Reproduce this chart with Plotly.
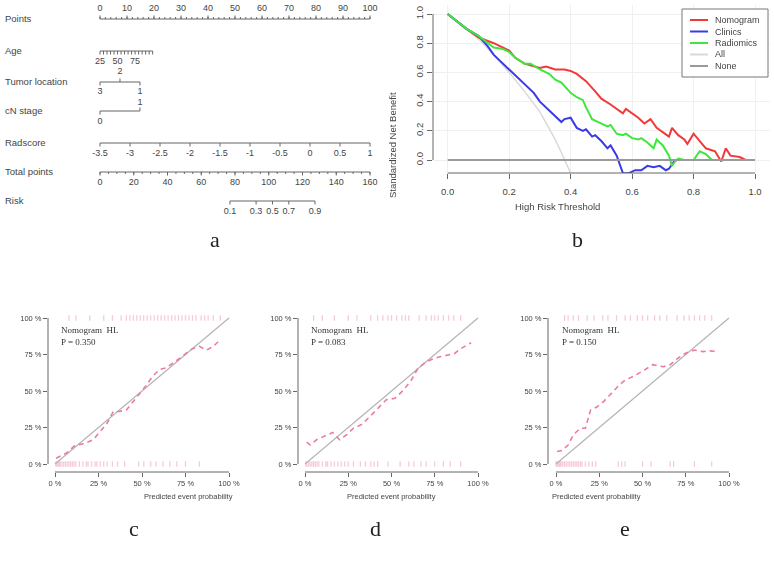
import plotly.graph_objects as go

W, H = 774, 562

# =============================================================================
# DATA - panel a (nomogram)
# =============================================================================

POINTS_TICKS = list(range(0, 101, 10))
POINTS_MINOR = list(range(0, 101, 2))

AGE_LABELS = [25, 50, 75]
AGE_TICKS = list(range(25, 101, 5))
AGE_PTS_PER_YEAR = 0.26

TUMOR_LEVELS = ["3", "2", "1"]
TUMOR_POINTS = [0, 7.4, 14.8]

CN_LEVELS = ["0", "1"]
CN_POINTS = [0, 14.8]

RADSCORE_TICKS = [-3.5, -3, -2.5, -2, -1.5, -1, -0.5, 0, 0.5, 1]

TOTAL_TICKS = list(range(0, 161, 20))
TOTAL_MINOR = list(range(0, 161, 5))

RISK_LABELS = ["0.1", "0.3", "0.5", "0.7", "0.9"]
RISK_TOTAL_POINTS = [77, 92.5, 102.2, 111.9, 127.4]

ROW_NAMES = ["Points", "Age", "Tumor location", "cN stage", "Radscore", "Total points", "Risk"]

# =============================================================================
# DATA - panel b (decision curves)
# =============================================================================

NOMO_X = [0, .03, .06, .1, .15, .2, .22, .25, .28, .3, .32, .35, .38, .4, .42, .45, .48, .5,
          .53, .55, .57, .58, .6, .62, .64, .66, .68, .7, .72, .73, .75, .77, .78, .8, .82,
          .84, .87, .89, .905, .92, .95, .97, 1.0]
NOMO_Y = [1, .95, .9, .84, .80, .75, .70, .66, .64, .63, .64, .62, .62, .61, .59, .54, .47, .42,
          .38, .35, .32, .35, .32, .29, .25, .28, .22, .19, .16, .22, .17, .14, .11, .18, .13,
          .08, .06, -.01, .08, .03, .02, 0, 0]

CLIN_X = [0, .03, .06, .1, .13, .15, .18, .2, .23, .25, .28, .3, .33, .35, .37, .38, .4, .42,
          .44, .45, .47, .48, .5, .52, .53, .55, .57, .59, .61, .63, .65, .67, .69, .71, .72,
          .74, .78, .82, .87]
CLIN_Y = [1, .95, .9, .85, .78, .72, .66, .62, .56, .52, .46, .40, .34, .30, .26, .28, .29, .22,
          .20, .21, .16, .17, .13, .08, .10, .03, -.09, -.09, -.07, -.07, -.04, -.05, -.04, -.07,
          -.06, 0, 0, 0, 0]

RAD_X = [0, .03, .06, .1, .13, .15, .18, .2, .22, .25, .27, .3, .33, .35, .37, .4, .42, .44,
         .45, .47, .49, .5, .52, .53, .55, .57, .58, .6, .62, .63, .65, .67, .68, .7, .72, .73,
         .74, .75, .77, .8, .82, .84, .86, .9, 1.0]
RAD_Y = [1, .95, .9, .85, .80, .77, .76, .74, .70, .66, .66, .62, .59, .55, .53, .46, .43, .41,
         .36, .28, .26, .25, .23, .24, .18, .17, .18, .15, .14, .15, .12, .08, .14, .10, .03, -.04,
         -.01, .01, 0, 0, .06, .04, 0, 0, 0]

ALL_X = [0, .05, .1, .15, .2, .25, .3, .33, .35, .37, .39, .4]
ALL_Y = [1, .92, .83, .72, .60, .47, .33, .22, .14, .05, -.05, -.09]

NONE_X = [0, 1]
NONE_Y = [0, 0]

DCA_TICKS = [0, 0.2, 0.4, 0.6, 0.8, 1.0]
DCA_TICKTEXT = ["0.0", "0.2", "0.4", "0.6", "0.8", "1.0"]

# =============================================================================
# DATA - panels c, d, e (calibration)
# =============================================================================

CAL_C_X = [0.6, 6.7, 11.5, 17, 22, 26, 30, 33.5, 37, 41, 45, 49, 52.6, 56, 60, 64, 68, 72, 75.5,
           79, 83, 87, 91, 94]
CAL_C_Y = [4, 7.5, 12.8, 14, 16.7, 22, 28, 36, 36, 37, 43, 49, 54, 60, 64.6, 66, 69, 72.6, 76,
           79, 80.6, 78, 80.6, 84]

CAL_D_X = [1, 3, 6.7, 11.5, 16, 20, 24, 28, 32.7, 37.5, 42, 47, 52, 57, 61.5, 65, 70, 74, 78,
           82, 86.5, 90, 96]
CAL_D_Y = [15, 13, 16.6, 19, 21.6, 16.6, 20, 24.5, 27, 32.5, 38, 44, 45, 50.7, 57.5, 65, 70, 72,
           73.4, 74.5, 75.7, 79, 83]

CAL_E_X = [0.6, 3.5, 7, 10, 14, 17, 20, 23.6, 27.5, 31, 36, 40, 44.7, 50.5, 56, 62, 66, 70,
           74.5, 80, 85, 89, 94]
CAL_E_Y = [8.6, 9.3, 13, 20, 24.5, 24.5, 37, 39, 42.7, 47, 53.4, 57.5, 60, 64, 68, 66.6, 68, 72,
           75.7, 78, 77, 77.5, 77]

RUG_C_TOP = [8, 12, 20, 28, 33, 38, 41, 43, 45, 47, 49, 51, 53, 55, 57, 59, 61, 63, 65, 67, 69,
             71, 73, 75, 77, 79, 81, 84, 86, 88, 91, 95]
RUG_C_BOT = [0.5, 1, 1.5, 2, 2.5, 3, 4, 5, 6, 7, 8, 9, 10, 11, 12, 14, 16, 18, 19, 21, 23, 24,
             26, 28, 30, 33, 36, 40, 48, 51, 55, 58, 62, 66, 70, 75, 83]
RUG_D_TOP = [5, 10, 17, 25, 30, 38, 42, 45, 48, 50, 53, 56, 58, 60, 66, 70, 73, 75, 77, 80, 83,
             86, 90]
RUG_D_BOT = [0.5, 1, 2, 3, 4, 5, 6, 7, 8, 10, 12, 13, 15, 17, 19, 21, 23, 25, 28, 32, 35, 38,
             40, 42, 48, 55, 60, 63, 67, 70, 75, 80, 84, 90]
RUG_E_TOP = [5, 7, 10, 13, 18, 22, 27, 30, 35, 40, 43, 47, 50, 53, 57, 60, 64, 70, 74, 77, 80,
             83, 86, 90]
RUG_E_BOT = [0, 0.5, 1, 1.5, 2, 2.5, 3, 4, 5, 6, 7, 8, 9, 10, 11, 12, 13, 14, 15, 17, 19, 21,
             23, 36, 38, 40, 50, 55, 66, 68, 80, 90]

HL_P = ["0.350", "0.083", "0.150"]
CAL_TICKS = [0, 25, 50, 75, 100]
CAL_TICKTEXT = ["0 %", "25 %", "50 %", "75 %", "100 %"]

# =============================================================================
# STYLE
# =============================================================================

SANS = "Liberation Sans, Arial, sans-serif"
SERIF = "Liberation Serif, Times New Roman, serif"
AXIS_COL = "#666666"
TEXT_COL = "#444444"
PINK = "#ec7c9c"
RUG_PINK = "#f5c2d0"


def px(x):
    return x / W


def py(y):
    return 1 - y / H


fig = go.Figure()

# =============================================================================
# PANEL A: NOMOGRAM  (x in "points" units, y in row positions)
# =============================================================================

ROW_Y = [19, 51, 82, 111, 143, 172, 201]


def add_scale(xpos, dirs, labels, row_y, minor=None, up_off=10, down_off=11):
    """Axis line + ticks (dir -1 = up, +1 = down) + labels on the nomogram axis."""
    fig.add_trace(go.Scatter(
        x=[min(xpos), max(xpos)], y=[row_y, row_y], mode="lines",
        line={"color": AXIS_COL, "width": 1}, xaxis="x", yaxis="y",
        showlegend=False, hoverinfo="skip",
    ))
    tx, ty = [], []
    for xv, d in zip(xpos, dirs):
        tx += [xv, xv, None]
        ty += [row_y, row_y + d * 3.5, None]
    if minor is not None:
        d0 = dirs[0]
        for xv in minor:
            tx += [xv, xv, None]
            ty += [row_y, row_y + d0 * 2, None]
    fig.add_trace(go.Scatter(
        x=tx, y=ty, mode="lines", line={"color": AXIS_COL, "width": 1},
        xaxis="x", yaxis="y", showlegend=False, hoverinfo="skip",
    ))
    lx = [xv for xv, lab in zip(xpos, labels) if lab != ""]
    ly = [row_y + (-up_off if d < 0 else down_off) for d, lab in zip(dirs, labels) if lab != ""]
    lt = [lab for lab in labels if lab != ""]
    fig.add_trace(go.Scatter(
        x=lx, y=ly, mode="text", text=lt, textposition="middle center",
        textfont={"family": SANS, "size": 9, "color": TEXT_COL},
        xaxis="x", yaxis="y", showlegend=False, hoverinfo="skip",
    ))


# Points
add_scale(POINTS_TICKS, [-1] * len(POINTS_TICKS), [str(v) for v in POINTS_TICKS],
          ROW_Y[0], minor=POINTS_MINOR)
# Age
age_pts = [(a - 25) * AGE_PTS_PER_YEAR for a in AGE_TICKS]
age_lab = [str(a) if a in AGE_LABELS else "" for a in AGE_TICKS]
add_scale(age_pts, [1] * len(AGE_TICKS), age_lab, ROW_Y[1])
# Tumor location
add_scale(TUMOR_POINTS, [1, -1, 1], TUMOR_LEVELS, ROW_Y[2], down_off=9.5)
# cN stage
add_scale(CN_POINTS, [1, -1], CN_LEVELS, ROW_Y[3], up_off=8.5)
# Radscore
rad_pts = [(r + 3.5) / 4.5 * 100 for r in RADSCORE_TICKS]
add_scale(rad_pts, [1] * len(RADSCORE_TICKS), [f"{r:g}" for r in RADSCORE_TICKS], ROW_Y[4])
# Total points
add_scale([t * 100 / 160 for t in TOTAL_TICKS], [1] * len(TOTAL_TICKS),
          [str(t) for t in TOTAL_TICKS], ROW_Y[5],
          minor=[t * 100 / 160 for t in TOTAL_MINOR])
# Risk
add_scale([t * 100 / 160 for t in RISK_TOTAL_POINTS], [1] * len(RISK_LABELS),
          RISK_LABELS, ROW_Y[6])

# Row names
fig.add_trace(go.Scatter(
    x=[-35.2] * len(ROW_NAMES), y=[y + 1 for y in ROW_Y], mode="text", text=ROW_NAMES,
    textposition="middle right",
    textfont={"family": SANS, "size": 9.5, "color": TEXT_COL},
    xaxis="x", yaxis="y", showlegend=False, hoverinfo="skip",
))

# =============================================================================
# PANEL B: DECISION CURVES
# =============================================================================

DCA_SERIES = [
    ("All", ALL_X, ALL_Y, "#d9d9d9", 1.5),
    ("Nomogram", NOMO_X, NOMO_Y, "#f03a3a", 2),
    ("Clinics", CLIN_X, CLIN_Y, "#3a3ae6", 2),
    ("Radiomics", RAD_X, RAD_Y, "#3ee63e", 2),
    ("None", NONE_X, NONE_Y, "#9a9a9a", 1.8),
]
for name, xs, ys, col, wd in DCA_SERIES:
    fig.add_trace(go.Scatter(
        x=xs, y=ys, mode="lines", name=name,
        line={"color": col, "width": wd},
        xaxis="x2", yaxis="y2", showlegend=False,
    ))

shapes = []
annotations = []

# R-style axis lines (only from first to last tick)
shapes.append(dict(type="line", xref="x2", yref="y2 domain", x0=0, x1=1, y0=0, y1=0,
                   line={"color": AXIS_COL, "width": 1}))
shapes.append(dict(type="line", xref="x2 domain", yref="y2", x0=0, x1=0, y0=0, y1=1,
                   line={"color": AXIS_COL, "width": 1}))

# Manual legend box
shapes.append(dict(type="rect", xref="paper", yref="paper",
                   x0=px(682), x1=px(768), y0=py(77), y1=py(9),
                   line={"color": "#777777", "width": 1}, fillcolor="white"))
LEGEND_ORDER = ["Nomogram", "Clinics", "Radiomics", "All", "None"]
LEGEND_COLORS = {"Nomogram": "#f03a3a", "Clinics": "#3a3ae6", "Radiomics": "#3ee63e",
                 "All": "#d9d9d9", "None": "#9a9a9a"}
for i, name in enumerate(LEGEND_ORDER):
    yy = 20 + i * 11.5
    shapes.append(dict(type="line", xref="paper", yref="paper",
                       x0=px(690), x1=px(708), y0=py(yy), y1=py(yy),
                       line={"color": LEGEND_COLORS[name], "width": 2}))
    annotations.append(dict(x=px(713), y=py(yy), xref="paper", yref="paper", text=name,
                            showarrow=False, xanchor="left", yanchor="middle",
                            font={"family": SANS, "size": 9, "color": TEXT_COL}))

annotations.append(dict(x=px(602), y=py(206), xref="paper", yref="paper",
                        text="High Risk Threshold", showarrow=False,
                        font={"family": SANS, "size": 9.5, "color": TEXT_COL}))
annotations.append(dict(x=px(392), y=py(90), xref="paper", yref="paper",
                        text="Standardized Net Benefit", showarrow=False, textangle=-90,
                        font={"family": SANS, "size": 9.5, "color": TEXT_COL}))

# =============================================================================
# PANELS C, D, E: CALIBRATION
# =============================================================================

CAL_PANELS = [
    ("3", CAL_C_X, CAL_C_Y, RUG_C_TOP, RUG_C_BOT, HL_P[0], 48, 55, 229),
    ("4", CAL_D_X, CAL_D_Y, RUG_D_TOP, RUG_D_BOT, HL_P[1], 298, 305, 478),
    ("5", CAL_E_X, CAL_E_Y, RUG_E_TOP, RUG_E_BOT, HL_P[2], 548, 556, 729),
]
cal_axes = {}
for k, cx, cy, rtop, rbot, pval, left_px, zero_px, full_px in CAL_PANELS:
    xa, ya = "x" + k, "y" + k
    scale = (full_px - zero_px) / 100.0
    right_px = left_px + 192
    cal_axes["xaxis" + k] = dict(
        domain=[px(left_px), px(right_px)],
        range=[(left_px - zero_px) / scale, (right_px - zero_px) / scale],
        tickvals=CAL_TICKS, ticktext=CAL_TICKTEXT, ticks="outside", ticklen=4,
        tickcolor=AXIS_COL, showline=False, showgrid=False, zeroline=False,
        tickfont={"family": SANS, "size": 7.5, "color": TEXT_COL},
        anchor=ya, fixedrange=True,
    )
    cal_axes["yaxis" + k] = dict(
        domain=[py(472), py(305)],
        range=[(464 - 472) / 1.46, (464 - 305) / 1.46],
        tickvals=CAL_TICKS, ticktext=CAL_TICKTEXT, ticks="outside", ticklen=4,
        tickcolor=AXIS_COL, showline=False, showgrid=False, zeroline=False,
        tickfont={"family": SANS, "size": 7.5, "color": TEXT_COL},
        anchor=xa, fixedrange=True,
    )
    # rug marks
    fig.add_trace(go.Scatter(
        x=rtop + rbot, y=[100] * len(rtop) + [0] * len(rbot), mode="markers",
        marker={"symbol": "line-ns-open", "size": 4, "color": RUG_PINK,
                "line": {"color": RUG_PINK, "width": 1.3}},
        opacity=0.85, xaxis=xa, yaxis=ya, showlegend=False, hoverinfo="skip",
    ))
    # ideal line
    fig.add_trace(go.Scatter(
        x=[0, 100], y=[0, 100], mode="lines", line={"color": "#b4b4b4", "width": 1.2},
        xaxis=xa, yaxis=ya, showlegend=False, hoverinfo="skip",
    ))
    # calibration curve
    fig.add_trace(go.Scatter(
        x=cx, y=cy, mode="lines", line={"color": PINK, "width": 1.6, "dash": "5px,4px"},
        xaxis=xa, yaxis=ya, showlegend=False,
    ))
    shapes.append(dict(type="line", xref=xa, yref=ya + " domain", x0=0, x1=100, y0=0, y1=0,
                       line={"color": AXIS_COL, "width": 1}))
    shapes.append(dict(type="line", xref=xa + " domain", yref=ya, x0=0, x1=0, y0=0, y1=100,
                       line={"color": AXIS_COL, "width": 1}))
    annotations.append(dict(x=px(zero_px + 4), y=py(323), xref="paper", yref="paper",
                            text=f"Nomogram  HL<br>P = {pval}", showarrow=False,
                            xanchor="left", yanchor="top", align="left",
                            font={"family": SERIF, "size": 9, "color": "#333333"}))
    annotations.append(dict(x=px((zero_px + full_px) / 2), y=py(503), xref="paper",
                            yref="paper", text="Predicted event probability",
                            showarrow=False,
                            font={"family": SANS, "size": 7.5, "color": TEXT_COL}))

# Panel letters
for letter, lx, ly in [("a", 208, 240), ("b", 585, 240), ("c", 127, 543),
                       ("d", 375, 543), ("e", 632, 543)]:
    annotations.append(dict(x=px(lx), y=py(ly), xref="paper", yref="paper", text=letter,
                            showarrow=False,
                            font={"family": SERIF, "size": 22, "color": "#222222"}))

fig.update_layout(
    width=W, height=H,
    margin={"l": 0, "r": 0, "t": 0, "b": 0},
    paper_bgcolor="white", plot_bgcolor="white",
    showlegend=False,
    xaxis=dict(domain=[0, px(390)], range=[-100 / 2.7, 290 / 2.7], visible=False,
               fixedrange=True, anchor="y"),
    yaxis=dict(domain=[py(250), 1], range=[250, 0], visible=False, fixedrange=True,
               anchor="x"),
    xaxis2=dict(
        domain=[px(433), px(770)], range=[(433 - 447.7) / 307.3, (770 - 447.7) / 307.3],
        tickvals=DCA_TICKS, ticktext=DCA_TICKTEXT, ticks="outside", ticklen=5,
        tickcolor=AXIS_COL, showline=False, showgrid=True, gridcolor="#f0f0f0",
        zeroline=False, ticklabelstandoff=5,
        tickfont={"family": SANS, "size": 9.5, "color": TEXT_COL},
        anchor="y2", fixedrange=True,
    ),
    yaxis2=dict(
        domain=[py(173), py(5)], range=[(160 - 173) / 146, (160 - 5) / 146],
        tickvals=DCA_TICKS, ticktext=DCA_TICKTEXT, ticks="outside", ticklen=5,
        tickcolor=AXIS_COL, showline=False, showgrid=True, gridcolor="#f0f0f0",
        zeroline=False, tickangle=-90,
        tickfont={"family": SANS, "size": 9.5, "color": TEXT_COL},
        anchor="x2", fixedrange=True,
    ),
    shapes=shapes,
    annotations=annotations,
    **cal_axes,
)

# the page's default 8px body margin would shift the whole figure
fig.write_html("out.html", config={"displayModeBar": False},
               post_script="document.body.style.margin='0';")
